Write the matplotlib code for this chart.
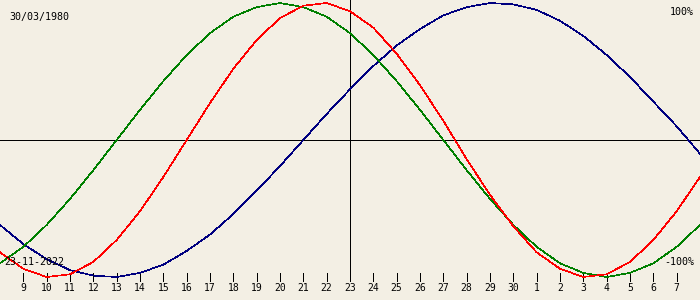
import matplotlib
matplotlib.use('Agg')
from matplotlib import pyplot as plt

birth = '30/03/1980'
today = '23-11-2022'

# days around the selected date (-15 .. +15)
offsets = list(range(-15, 16))
tick_offsets = list(range(-14, 15))
tick_days = [9, 10, 11, 12, 13, 14, 15, 16, 17, 18, 19, 20, 21, 22, 23, 24, 25,
             26, 27, 28, 29, 30, 1, 2, 3, 4, 5, 6, 7]

# curve values (fraction of 100%)
red = [-0.82, -0.94, -1.00, -0.98, -0.89, -0.73, -0.52, -0.27, 0.00, 0.27, 0.52,
       0.73, 0.89, 0.98, 1.00, 0.94, 0.82, 0.63, 0.40, 0.14, -0.14, -0.40, -0.63,
       -0.82, -0.94, -1.00, -0.98, -0.89, -0.73, -0.52, -0.27]
green = [-0.90, -0.78, -0.62, -0.43, -0.22, 0.00, 0.22, 0.43, 0.62, 0.78, 0.90,
         0.97, 1.00, 0.97, 0.90, 0.78, 0.62, 0.43, 0.22, 0.00, -0.22, -0.43, -0.62,
         -0.78, -0.90, -0.97, -1.00, -0.97, -0.90, -0.78, -0.62]
blue = [-0.62, -0.76, -0.87, -0.95, -0.99, -1.00, -0.97, -0.91, -0.81, -0.69, -0.54,
        -0.37, -0.19, 0.00, 0.19, 0.37, 0.54, 0.69, 0.81, 0.91, 0.97, 1.00, 0.99,
        0.95, 0.87, 0.76, 0.62, 0.46, 0.28, 0.10, -0.10]

bg = '#f3efe4'
font = 'DejaVu Sans Mono'
fs = 7.2
lw = 0.7
clw = 0.45

fig = plt.figure(figsize=(7, 3), dpi=100, facecolor=bg)
ax = fig.add_axes([0, 0, 1, 1])
ax.set_facecolor(bg)
ax.axis('off')

# pixel row 140 is zero, 137 px per unit
amp = 137.0
def py(p):
    return (140 - p) / amp

ax.set_xlim(-15, 15)
ax.set_ylim(py(300), py(0))

ax.axhline(0, color='black', lw=lw, antialiased=False)
ax.vlines(0, py(281), py(0), color='black', lw=lw, antialiased=False)
ax.vlines(tick_offsets, py(281), py(273), color='black', lw=lw, antialiased=False)

ax.plot(offsets, blue, color='#000080', lw=clw, antialiased=False)
ax.plot(offsets, green, color='#008000', lw=clw, antialiased=False)
ax.plot(offsets, red, color='#ff0000', lw=clw, antialiased=False)

for k, d in zip(tick_offsets, tick_days):
    ax.text(k, py(288), str(d), ha='center', va='center', fontsize=fs - 0.2,
            family=font, color='black')

def ptext(x, y, s, ha='left'):
    fig.text(x / 700, 1 - y / 300, s, ha=ha, va='center', fontsize=fs,
             family=font, color='black')

ptext(9, 17, birth)
ptext(694, 12, '100%', ha='right')
ptext(4, 262, today)
ptext(694, 262, '-100%', ha='right')

fig.savefig('out.png', dpi=100, facecolor=bg)
